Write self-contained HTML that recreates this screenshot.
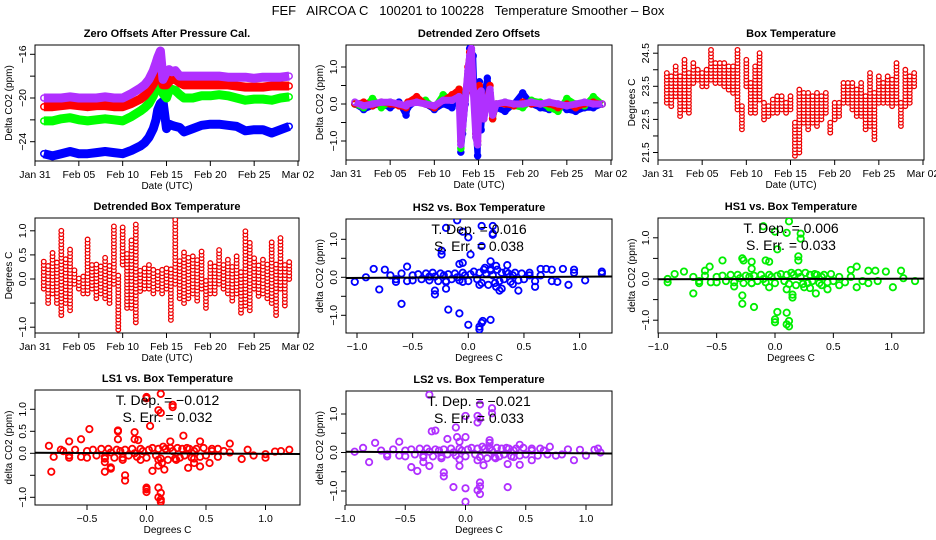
<!DOCTYPE html>
<html><head><meta charset="utf-8"><style>
html,body{margin:0;padding:0;background:#fff}
svg{display:block;font-family:"Liberation Sans",Arial,sans-serif}
</style></head><body>
<svg id="c" width="936" height="540" viewBox="0 0 936 540">
<text x="468" y="15" text-anchor="middle" font-size="13" style="white-space:pre" xml:space="preserve">FEF   AIRCOA C   100201 to 100228   Temperature Smoother – Box</text>
</svg>
<script>
// ---------- data ----------
const p1Days=[1,2,3,4,5,6,7,8,9,10,11,12,12.5,13,13.5,13.8,14,14.3,14.6,15,15.3,15.6,16,16.5,17,18,19,20,21,22,23,24,25,26,27,28,29];
const p1Purple=[-20,-20,-20,-19.9,-20,-20,-20,-19.9,-20,-20,-19.6,-19.1,-18.8,-18.3,-17.5,-16.8,-16.3,-15.7,-18.3,-17.6,-17.4,-17.6,-17.5,-18,-18,-18,-18,-18,-18,-18.1,-18.1,-18.1,-18.2,-18.1,-18.1,-18.1,-18];
const p1Red=[-20.8,-20.8,-20.7,-20.6,-20.7,-20.8,-20.7,-20.7,-20.8,-20.8,-20.5,-20.1,-19.8,-19.3,-18.7,-18.2,-17.4,-17.1,-18.8,-18.8,-18.5,-18.3,-18.3,-18.6,-18.8,-18.8,-18.8,-18.8,-18.8,-18.8,-18.9,-19,-19,-19,-18.9,-18.9,-18.9];
const p1Green=[-22.1,-22.1,-21.9,-21.8,-22,-22.1,-22,-21.9,-22,-22.1,-21.7,-21.2,-20.9,-20.5,-19.8,-19.2,-18.6,-18.1,-19.6,-20,-19.3,-19.2,-19.3,-19.7,-20,-20,-19.8,-19.8,-19.7,-19.8,-20,-20.2,-20.1,-20.1,-20.2,-20,-19.9];
const p1Blue=[-25.1,-25.3,-25.1,-24.9,-25.1,-25.1,-25,-24.9,-25,-25.1,-24.8,-24.4,-24.1,-23.6,-22.8,-22,-21.1,-20.5,-20.3,-22.8,-22.4,-22.5,-22.6,-22.7,-23.1,-22.8,-22.5,-22.4,-22.4,-22.5,-22.6,-23,-22.9,-22.9,-23.2,-22.9,-22.6];

const dzDays=[1,2,3,4,5,6,6.8,7,8,9,10,11,12,12.8,13,13.2,13.5,13.8,14,14.2,14.4,14.7,14.9,15.1,15.3,15.6,16,16.3,16.6,17,18,19,20,21,22,23,24,25,26,27,28,29];
const dzBlue=[0,-0.15,-0.05,0,-0.1,0.05,-0.3,-0.1,0.1,0,-0.15,0,-0.1,0.3,-1.3,-0.8,0,0.7,1.5,1.45,1.3,-0.8,-1.4,0.6,-0.7,0.2,0.7,0.3,-0.3,-0.1,-0.2,0,0.3,0,-0.1,-0.15,0,-0.15,-0.2,-0.1,-0.1,0];
const dzGreen=[0,-0.1,0.15,-0.1,0.05,0,-0.05,0,0.05,0.1,-0.1,0.25,0.1,0.4,-1.2,-0.7,0.1,0.8,1.2,1.4,0.5,-0.9,-1.1,0.4,-0.1,-0.3,0.1,0.3,-0.4,0,0.05,-0.05,-0.1,0.1,0.05,-0.1,-0.2,0.15,0,-0.05,0.2,0];
const dzRed=[0,0.05,-0.05,0.05,0,-0.05,-0.1,0.05,0.2,0,-0.1,0.1,0.25,0.4,-1.0,-0.5,0.2,1.0,1.4,1.4,0.3,-0.8,-1.0,0.5,0.2,-0.4,0.2,0.5,-0.4,0,0,-0.05,0.05,0,0,0,-0.1,0,-0.1,0,0.05,0];
const dzPurple=[0.05,-0.05,0,0.05,0.05,0,-0.05,0,0.05,0,-0.05,0.1,0.1,0.2,-1.1,-0.6,0.1,0.9,1.3,1.5,0.4,-0.9,-1.1,0.3,0.35,-0.4,0.1,0.4,-0.3,0,0.05,0,0,0.05,0,0.05,0,-0.05,0,0.05,0,0];

const tDays=[1,1.5,2,2.5,3,3.5,4,4.5,5,5.5,6,6.5,7,7.5,8,8.5,9,9.5,10,10.5,11,11.5,12,12.5,13,13.5,14,14.5,15,15.5,16,16.5,17,17.5,18,18.5,19,19.5,20,20.5,21,21.5,22,22.5,23,23.5,24,24.5,25,25.5,26,26.5,27,27.5,28,28.5,29];
const tLo=[23.0,22.9,23.2,22.6,22.8,22.7,23.6,23.7,23.5,23.5,23.7,23.6,23.6,23.5,23.4,23.3,22.8,22.2,23.5,22.7,22.7,23.1,22.5,22.6,22.7,22.7,22.8,22.7,22.8,21.4,21.5,22.4,22.2,22.4,22.3,22.5,22.7,22.1,22.5,22.6,23.0,23.0,22.8,22.6,22.6,22.2,22.3,21.9,23.0,23.0,23.0,22.9,23.0,22.3,22.9,23.0,23.5];
const tHi=[23.9,23.8,24.1,23.8,24.3,23.9,24.2,24.0,23.9,24.0,24.6,24.2,24.2,24.2,24.1,24.1,24.6,22.9,24.3,23.6,24.1,24.5,23.0,22.9,23.1,23.2,23.2,23.0,23.2,22.4,23.4,23.3,23.3,23.2,23.3,23.2,23.3,22.4,23.0,23.0,23.6,23.6,23.6,23.4,23.6,23.2,23.9,23.3,23.8,23.6,23.8,23.7,24.2,23.0,24.0,23.8,23.9];
const dLo=[-0.2,-0.5,-0.3,-0.5,-0.75,-0.5,-0.65,-0.1,-0.2,-0.3,-0.3,-0.2,-0.4,-0.3,-0.4,-0.5,-0.1,-1.05,0.3,-0.6,-0.6,-0.9,-0.25,-0.2,-0.2,-0.3,-0.2,-0.3,-0.2,-0.85,-0.1,-0.4,-0.5,-0.4,-0.3,-0.45,-0.2,-0.6,-0.3,-0.3,-0.1,-0.2,-0.3,-0.45,-0.3,-0.7,-0.55,-0.65,-0.2,-0.35,-0.3,-0.4,-0.5,-0.75,-0.2,-0.55,0.0];
const dHi=[0.4,0.3,0.6,0.4,1.0,0.45,0.65,0.2,0.05,0.1,0.85,0.35,0.35,0.3,0.45,0.3,1.1,0.1,1.1,0.55,0.8,1.15,0.2,0.25,0.3,0.2,0.2,0.2,0.25,0.2,1.25,0.4,0.6,0.5,0.5,0.4,0.6,0.0,0.35,0.3,0.6,0.3,0.4,0.3,0.5,0.2,1.05,0.8,0.45,0.3,0.45,0.35,0.8,0.3,0.9,0.3,0.4];

const hs2Pts=[[-0.1,1.5],[-0.05,1.2],[0.12,1.35],[0.22,1.35],[0.22,1.15],[0.22,1.12],[0,1.05],[0.12,0.82],[0.02,0.6],[-0.24,0.7],[-0.24,0.6],[0.2,0.42],[-0.08,0.35],[-0.05,0.38],[-0.2,1.3],[-0.6,-0.7],[-0.18,-0.85],[-0.08,-0.95],[0,-1.25],[0.1,-1.3],[0.12,-1.2],[0.13,-1.15],[0.2,-1.12],[0.1,-1.37],[-0.3,-0.45],[-0.3,-0.35],[-0.8,-0.32],[-0.2,-0.3],[0.28,-0.35],[0.45,-0.35],[0.6,-0.25],[1.2,0.15],[1.2,0.1],[1.05,-0.08],[0.95,0.2],[0.95,0.12],[0.85,0.22],[0.75,0.2],[0.7,0.22],[0.65,0.22],[0.35,0.32],[-0.55,0.28],[-0.85,0.22],[-1.02,-0.12],[-0.92,0],[-0.75,0.2],[0.8,-0.12],[0.9,-0.2],[0.75,-0.1],
[-0.7,0.05],[-0.65,-0.05],[-0.6,0.1],[-0.55,-0.1],[-0.5,0.05],[-0.45,0.08],[-0.42,-0.05],[-0.38,0.1],[-0.35,-0.08],[-0.32,0.12],[-0.3,0.02],[-0.27,-0.1],[-0.25,0.1],[-0.22,0.05],[-0.2,-0.12],[-0.18,0.08],[-0.15,-0.05],[-0.12,0.1],[-0.1,0],[-0.08,-0.08],[-0.05,0.12],[-0.03,0.05],[0,-0.1],[0.02,0.08],[0.05,0.15],[0.08,-0.05],[0.1,0.12],[0.12,-0.15],[0.14,0.2],[0.16,0.1],[0.18,-0.2],[0.2,0.18],[0.22,0.05],[0.24,-0.15],[0.26,0.2],[0.28,-0.1],[0.3,0.12],[0.32,-0.05],[0.34,0.15],[0.36,0.1],[0.38,-0.12],[0.4,0.05],[0.42,0.12],[0.45,-0.08],[0.48,0.1],[0.5,-0.05],[0.55,0.05],[0.6,-0.1],[0.65,0.05],[-0.65,-0.12],[-0.5,-0.08],[-0.35,0.02],[-0.2,-0.1],[-0.05,-0.12],[0.1,-0.2],[0.25,-0.25],[0.4,-0.18],[0.55,0.12],[0.15,0.25],[0.25,0.3],[0.3,-0.3],[0.2,0.22]];
const hs1Pts=[[0.12,1.4],[-0.1,1.28],[0,1.15],[0.1,1.12],[0.22,1.1],[0.22,0.98],[0.02,0.72],[0.2,0.55],[0.2,0.45],[-0.28,0.5],[-0.27,0.45],[-0.2,0.42],[-0.08,0.45],[-0.05,0.42],[-0.45,0.45],[-0.7,-0.35],[-0.28,-0.4],[-0.28,-0.6],[-0.18,-0.68],[0.02,-0.8],[0.1,-0.82],[0,-0.98],[0,-1.05],[0.1,-1.1],[0.12,-1.15],[0.12,-1.02],[0.15,-0.45],[0.15,-0.38],[0.35,-0.35],[0.7,0.3],[0.7,-0.2],[1.2,-0.05],[1.08,0.2],[1.1,0.02],[1.01,-0.2],[0.95,0.18],[0.86,0.2],[0.8,0.2],[0.65,0.22],[-0.2,0.25],[-0.56,0.3],[-0.78,0.18],[-0.86,0.12],[-0.92,-0.08],[-0.92,0.0],[-0.6,0.2],[0.8,-0.1],[0.88,-0.05],[0.75,-0.05],
[-0.7,0.05],[-0.65,-0.05],[-0.6,0.08],[-0.55,-0.08],[-0.5,0.05],[-0.45,0.08],[-0.42,-0.05],[-0.38,0.1],[-0.35,-0.08],[-0.32,0.1],[-0.3,0.02],[-0.27,-0.1],[-0.25,0.08],[-0.22,0.05],[-0.2,-0.1],[-0.18,0.08],[-0.15,-0.05],[-0.12,0.1],[-0.1,0],[-0.08,-0.08],[-0.05,0.1],[-0.03,0.05],[0,-0.1],[0.02,0.08],[0.05,0.12],[0.08,-0.05],[0.1,0.1],[0.12,-0.12],[0.14,0.15],[0.16,0.1],[0.18,-0.15],[0.2,0.15],[0.22,0.05],[0.24,-0.12],[0.26,0.15],[0.28,-0.1],[0.3,0.1],[0.32,-0.05],[0.34,0.12],[0.36,0.1],[0.38,-0.1],[0.4,0.05],[0.42,0.1],[0.45,-0.08],[0.48,0.12],[0.5,-0.05],[0.55,0.05],[0.6,-0.08],[0.65,0.05],[-0.65,-0.1],[-0.5,-0.08],[-0.35,-0.18],[-0.2,-0.1],[-0.05,-0.2],[0.1,-0.25],[0.25,-0.2],[0.4,-0.15],[0.45,-0.25],[0.55,-0.15],[0.3,-0.22]];
const ls1Pts=[[0.12,1.35],[0,1.28],[0,1.25],[0.22,1.1],[0.22,1.05],[0.1,0.98],[0.12,0.92],[0.03,0.62],[0.31,0.4],[-0.48,0.55],[-0.24,0.52],[-0.24,0.5],[-0.1,0.48],[-0.24,0.32],[-0.1,0.32],[-0.07,0.3],[-0.55,0.32],[-0.65,0.27],[0.2,0.27],[0.45,0.27],[0.7,0.22],[-0.82,0.17],[-0.8,-0.42],[-0.35,-0.42],[-0.3,-0.32],[-0.3,-0.35],[-0.18,-0.5],[-0.18,-0.62],[0,-0.78],[0,-0.82],[0,-0.88],[0.1,-0.78],[0.1,-1.0],[0.12,-1.05],[0.12,-0.9],[0.12,-1.1],[0.05,-0.4],[0.15,-0.37],[0.35,-0.33],[0.45,-0.3],[0.53,-0.22],[0.4,-0.22],[1.0,-0.1],[1.0,-0.02],[1.2,0.08],[1.13,0.05],[1.08,0.04],[0.9,-0.05],[0.85,0.08],[0.8,-0.13],[-0.78,-0.08],[-0.72,0.08],[-0.35,-0.2],[0.1,-0.28],[0.13,-0.22],
[-0.7,0.05],[-0.65,-0.05],[-0.6,0.08],[-0.55,-0.08],[-0.5,0.05],[-0.45,0.08],[-0.42,-0.05],[-0.38,0.1],[-0.35,-0.08],[-0.32,0.1],[-0.3,0.02],[-0.27,-0.1],[-0.25,0.08],[-0.22,0.05],[-0.2,-0.1],[-0.18,0.08],[-0.15,-0.05],[-0.12,0.1],[-0.1,0],[-0.08,-0.08],[-0.05,0.1],[-0.03,0.05],[0,-0.1],[0.02,0.08],[0.05,0.12],[0.08,-0.05],[0.1,0.1],[0.12,-0.12],[0.14,0.15],[0.16,0.1],[0.18,-0.15],[0.2,0.12],[0.22,0.05],[0.24,-0.12],[0.26,0.12],[0.28,-0.1],[0.3,0.1],[0.32,-0.05],[0.34,0.12],[0.36,0.1],[0.38,-0.1],[0.4,0.05],[0.42,0.1],[0.45,-0.08],[0.48,0.12],[0.5,-0.05],[0.55,0.05],[0.6,-0.08],[0.65,0.05],[-0.65,-0.1],[-0.5,-0.1],[-0.35,-0.12],[-0.2,-0.15],[-0.05,-0.15],[0.1,-0.15],[0.25,-0.15],[0.4,-0.12],[0.55,0.1],[0.6,0.1],[0.7,0.02]];
const ls2Pts=[[-0.3,1.5],[0.12,1.25],[0.22,1.15],[0.22,1.02],[0,0.95],[0.1,0.95],[0.12,0.88],[0.1,0.78],[-0.08,0.65],[-0.07,0.4],[0,0.4],[-0.25,0.57],[-0.28,0.55],[-0.15,0.35],[-0.05,0.28],[0.2,0.32],[0.2,0.25],[-0.55,0.28],[-0.75,0.25],[0.45,0.2],[-0.45,-0.38],[-0.4,-0.48],[-0.35,-0.25],[-0.3,-0.35],[-0.18,-0.52],[-0.18,-0.62],[-0.05,-0.35],[-0.1,-0.9],[0,-0.93],[0.1,-0.98],[0.12,-0.88],[0.12,-0.78],[0.12,-1.08],[0,-1.28],[0.35,-0.9],[0.35,-0.3],[0.45,-0.32],[0.15,-0.33],[-0.8,-0.25],[-0.92,0.02],[-0.85,0.12],[0.9,-0.2],[0.95,0.07],[1.0,-0.08],[1.07,0.07],[1.1,0.1],[1.12,0.0],[0.8,-0.05],[0.85,0.08],[0.7,0.15],[0.55,-0.2],[0.75,-0.08],
[-0.7,0.05],[-0.65,-0.05],[-0.6,0.08],[-0.55,-0.08],[-0.5,0.05],[-0.45,0.08],[-0.42,-0.05],[-0.38,0.1],[-0.35,-0.08],[-0.32,0.1],[-0.3,0.02],[-0.27,-0.1],[-0.25,0.08],[-0.22,0.05],[-0.2,-0.1],[-0.18,0.08],[-0.15,-0.05],[-0.12,0.1],[-0.1,0],[-0.08,-0.08],[-0.05,0.1],[-0.03,0.05],[0,-0.1],[0.02,0.08],[0.05,0.12],[0.08,-0.05],[0.1,0.1],[0.12,-0.12],[0.14,0.15],[0.16,0.1],[0.18,-0.15],[0.2,0.12],[0.22,0.05],[0.24,-0.12],[0.26,0.12],[0.28,-0.1],[0.3,0.1],[0.32,-0.05],[0.34,0.12],[0.36,0.1],[0.38,-0.1],[0.4,0.05],[0.42,0.1],[0.45,-0.08],[0.48,0.12],[0.5,-0.05],[0.55,0.05],[0.6,-0.08],[0.65,0.05],[-0.65,-0.1],[-0.5,-0.1],[-0.35,-0.12],[-0.2,-0.15],[-0.05,-0.18],[0.1,-0.2],[0.25,-0.15],[0.4,-0.12],[0.55,0.1],[0.62,0.1],[0.68,-0.05]];
const tDep=[0.016,0.006,-0.012,-0.021];
const sErr=[0.038,0.033,0.032,0.033];
const dateTickDays=[0,5,10,15,20,25,30];
const dateTickLabels=["Jan 31","Feb 05","Feb 10","Feb 15","Feb 20","Feb 25","Mar 02"];

// ---------- drawing ----------
const NS="http://www.w3.org/2000/svg";
const svg=document.getElementById('c');
function el(tag,attrs,parent){const e=document.createElementNS(NS,tag);for(const k in attrs)e.setAttribute(k,attrs[k]);(parent||svg).appendChild(e);return e;}
function lin(d0,d1,r0,r1){return v=>r0+(v-d0)*(r1-r0)/(d1-d0);}

function panel(name,box,title,sx,sy,xticks,xlabels,yticks,ylabels,xtitle,ytitle){
  const g=el('g',{});
  
  
  const [x0,y0,x1,y1]=box;
  const clip=el('clipPath',{id:'clip-'+name},g);
  el('rect',{x:x0,y:y0,width:x1-x0,height:y1-y0},clip);
  const t=el('text',{x:(x0+x1)/2,y:y0-8,'text-anchor':'middle','font-size':'11','font-weight':'bold'},g);
  t.textContent=title;
  
  
  const r=el('rect',{x:x0,y:y0,width:x1-x0,height:y1-y0,fill:'none',stroke:'#000','stroke-width':1},g);
  
  
  xticks.forEach((v,i)=>{const x=sx(v);
    el('line',{x1:x,y1:y1,x2:x,y2:y1+5,stroke:'#000'},g);
    if(xlabels[i]){const tt=el('text',{x:x,y:y1+17,'text-anchor':'middle','font-size':'10.5'},g);tt.textContent=xlabels[i];
      
      }
  });
  yticks.forEach((v,i)=>{const y=sy(v);
    el('line',{x1:x0-5,y1:y,x2:x0,y2:y,stroke:'#000'},g);
    if(ylabels[i]){const tt=el('text',{x:0,y:0,'text-anchor':'middle','font-size':'10.5',transform:`translate(${x0-9},${y}) rotate(-90)`},g);tt.textContent=ylabels[i];
      
      }
  });
  const xt=el('text',{x:(x0+x1)/2,y:y1+28,'text-anchor':'middle','font-size':'10'},g);xt.textContent=xtitle;
  
  
  const yt=el('text',{x:0,y:0,'text-anchor':'middle','font-size':'10',transform:`translate(${x0-23},${(y0+y1)/2}) rotate(-90)`},g);yt.textContent=ytitle;
  
  
  const data=el('g',{'clip-path':`url(#clip-${name})`},g);
  
  
  return data;
}
function series(g,xs,ys,sx,sy,color,nm,w){
  const pts=xs.map((d,i)=>sx(d).toFixed(1)+','+sy(ys[i]).toFixed(1)).join(' ');
  const pl=el('polyline',{points:pts,fill:'none',stroke:color,'stroke-width':w,'stroke-linejoin':'round'},g);
  
  
  xs.forEach((d,i)=>{el('circle',{cx:sx(d),cy:sy(ys[i]),r:3,fill:'none',stroke:color,'stroke-width':1.5},g);});
}
function columns(g,xs,lo,hi,sx,sy,step,nm){
  xs.forEach((d,i)=>{
    for(let v=lo[i];v<=hi[i]+1e-6;v+=step){
      const c=el('circle',{cx:sx(d),cy:sy(v),r:2.3,fill:'#fff',stroke:'#e00','stroke-width':1.3},g);
      
      
    }
  });
}
function scatter(g,pts,sx,sy,color,nm){
  pts.forEach(p=>{const c=el('circle',{cx:sx(p[0]),cy:sy(p[1]),r:3.2,fill:'none',stroke:color,'stroke-width':1.8},g);
    
    });
}
function fitLine(g,box,sx,sy,slope){
  const inv=lin(sx(0),sx(1),0,1);
  const xa=inv(box[0]),xb=inv(box[2]);
  const l=el('line',{x1:box[0],y1:sy(xa*slope),x2:box[2],y2:sy(xb*slope),stroke:'#000','stroke-width':2},g);
  
  
}
function stats(box,i){
  const cx=(box[0]+box[2])/2;
  const a=el('text',{x:cx,y:box[1]+15,'text-anchor':'middle','font-size':'14','xml:space':'preserve'});
  a.textContent='T. Dep. = '+(tDep[i]<0?'\u2212':' ')+Math.abs(tDep[i]).toFixed(3);
  
  
  const b=el('text',{x:cx,y:box[1]+32,'text-anchor':'middle','font-size':'14'});
  b.textContent='S. Err. =  '+sErr[i].toFixed(3);
  
  
}

// Panel 1
let B=[35,45,299,161];
let sx=lin(0,30,35,298), sy=lin(-16,-24,54.3,141.7);
let g=panel('zero-offsets-panel',B,'Zero Offsets After Pressure Cal.',sx,sy,dateTickDays,dateTickLabels,[-16,-18,-20,-22,-24],['\u221216','','\u221220','','\u221224'],'Date (UTC)','Delta CO2 (ppm)');
series(g,p1Days,p1Blue,sx,sy,'#0000ff','hs2-series',9);
series(g,p1Days,p1Green,sx,sy,'#00ff00','hs1-series',9);
series(g,p1Days,p1Red,sx,sy,'#ff0000','ls1-series',9);
series(g,p1Days,p1Purple,sx,sy,'#b030ff','ls2-series',9);

// Panel 2
B=[346,45,612,160];
sx=lin(0,30,346,611); sy=lin(0,1,104,67);
g=panel('detrended-offsets-panel',B,'Detrended Zero Offsets',sx,sy,dateTickDays,dateTickLabels,[-1,-0.5,0,0.5,1],['\u22121.0','','0.0','','1.0'],'Date (UTC)','Delta CO2 (ppm)');
series(g,dzDays,dzBlue,sx,sy,'#0000ff','hs2-detrended',6);
series(g,dzDays,dzGreen,sx,sy,'#00ff00','hs1-detrended',6);
series(g,dzDays,dzRed,sx,sy,'#ff0000','ls1-detrended',6);
series(g,dzDays,dzPurple,sx,sy,'#b030ff','ls2-detrended',7);

// Panel 3
B=[658,45,924,160];
sx=lin(0,30,658,923); sy=lin(23.5,24.5,86.3,53.2);
g=panel('box-temperature-panel',B,'Box Temperature',sx,sy,dateTickDays,dateTickLabels,[21.5,22,22.5,23,23.5,24,24.5],['21.5','','22.5','','23.5','','24.5'],'Date (UTC)','Degrees C');
columns(g,tDays,tLo,tHi,sx,sy,0.1,'temp-point');

// Panel 4
B=[35,218,299,333];
sx=lin(0,30,35,298); sy=lin(0,1,279,230.8);
g=panel('detrended-box-temp-panel',B,'Detrended Box Temperature',sx,sy,dateTickDays,dateTickLabels,[-1,-0.5,0,0.5,1],['\u22121.0','','0.0','0.5','1.0'],'Date (UTC)','Degrees C');
columns(g,tDays,dLo,dHi,sx,sy,0.07,'detrended-temp-point');

// Panel 5 HS2
B=[346,219,612,333];
sx=lin(0,1,468.3,579.6); sy=lin(0,1,277.3,239.3);
g=panel('hs2-vs-temp-panel',B,'HS2 vs. Box Temperature',sx,sy,[-1,-0.5,0,0.5,1],['\u22121.0','\u22120.5','0.0','0.5','1.0'],[-1,-0.5,0,0.5,1],['\u22121.0','','0.0','','1.0'],'Degrees C','delta CO2 (ppm)');
scatter(g,hs2Pts,sx,sy,'#0000ff','hs2-point');fitLine(g,B,sx,sy,tDep[0]);stats(B,0);

// Panel 6 HS1
B=[658,218,924,333];
sx=lin(0,1,775,891.7); sy=lin(0,1,279,237.8);
g=panel('hs1-vs-temp-panel',B,'HS1 vs. Box Temperature',sx,sy,[-1,-0.5,0,0.5,1],['\u22121.0','\u22120.5','0.0','0.5','1.0'],[-1,-0.5,0,0.5,1],['\u22121.0','','0.0','','1.0'],'Degrees C','delta CO2 (ppm)');
scatter(g,hs1Pts,sx,sy,'#00ee00','hs1-point');fitLine(g,B,sx,sy,tDep[1]);stats(B,1);

// Panel 7 LS1
B=[35,390,300,505];
sx=lin(0,1,146.5,265.5); sy=lin(0,1,453.3,409.3);
g=panel('ls1-vs-temp-panel',B,'LS1 vs. Box Temperature',sx,sy,[-0.5,0,0.5,1],['\u22120.5','0.0','0.5','1.0'],[-1,-0.5,0,0.5,1],['\u22121.0','','0.0','0.5','1.0'],'Degrees C','delta CO2 (ppm)');
scatter(g,ls1Pts,sx,sy,'#ff0000','ls1-point');fitLine(g,B,sx,sy,tDep[2]);stats(B,2);

// Panel 8 LS2
B=[346,391,612,505];
sx=lin(0,1,465.5,586); sy=lin(0,1,452.5,414);
g=panel('ls2-vs-temp-panel',B,'LS2 vs. Box Temperature',sx,sy,[-1,-0.5,0,0.5,1],['\u22121.0','\u22120.5','0.0','0.5','1.0'],[-1,-0.5,0,0.5,1],['\u22121.0','','0.0','','1.0'],'Degrees C','delta CO2 (ppm)');
scatter(g,ls2Pts,sx,sy,'#b030ff','ls2-point');fitLine(g,B,sx,sy,tDep[3]);stats(B,3);
</script>
</body></html>
